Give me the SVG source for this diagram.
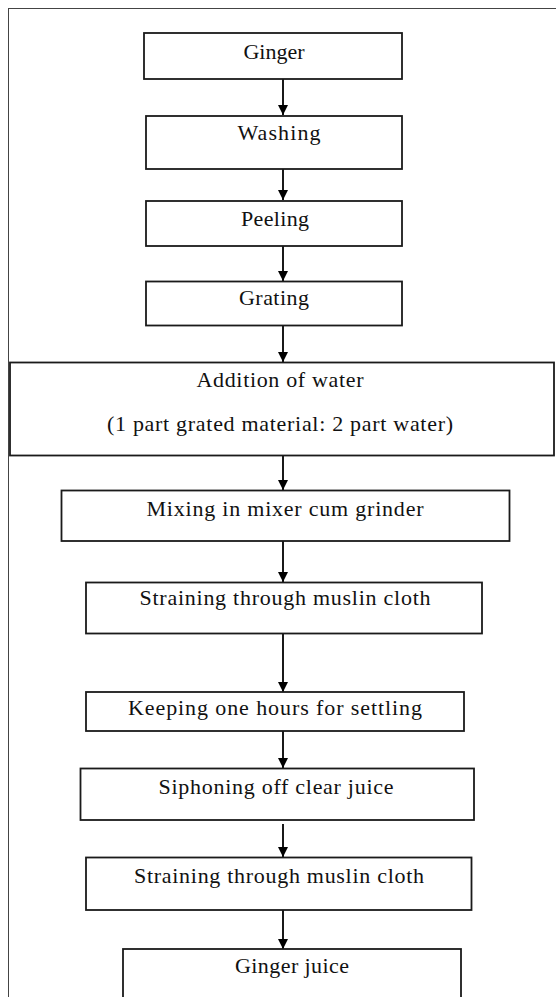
<svg xmlns="http://www.w3.org/2000/svg" width="556" height="997" viewBox="0 0 556 997">
<style>
.box{fill:#fff;stroke:#1a1a1a;stroke-width:1.8}
.t{font-family:"Liberation Serif","Times New Roman",serif;font-size:22px;fill:#111;text-anchor:middle}
.c{stroke:#000;stroke-width:1.8;fill:none}
</style>
<defs>
<marker id="ah" markerWidth="10" markerHeight="10" refX="10" refY="5" orient="auto" markerUnits="userSpaceOnUse">
<path d="M0,0 L10,5 L0,10 Z" fill="#000"/>
</marker>
</defs>
<rect x="0" y="0" width="556" height="997" fill="#fff"/>
<rect x="8.5" y="8.5" width="600" height="1000" fill="none" stroke="#444" stroke-width="1"/>
<g id="connectors">
<line class="c" x1="283" y1="79" x2="283" y2="115" marker-end="url(#ah)"/>
<line class="c" x1="283" y1="169" x2="283" y2="200" marker-end="url(#ah)"/>
<line class="c" x1="283" y1="246" x2="283" y2="281" marker-end="url(#ah)"/>
<line class="c" x1="283" y1="325" x2="283" y2="362" marker-end="url(#ah)"/>
<line class="c" x1="283" y1="456" x2="283" y2="490" marker-end="url(#ah)"/>
<line class="c" x1="283" y1="541" x2="283" y2="582" marker-end="url(#ah)"/>
<line class="c" x1="283" y1="634" x2="283" y2="692" marker-end="url(#ah)"/>
<line class="c" x1="283" y1="731" x2="283" y2="768" marker-end="url(#ah)"/>
<line class="c" x1="283" y1="824" x2="283" y2="857" marker-end="url(#ah)"/>
<line class="c" x1="283" y1="910" x2="283" y2="949" marker-end="url(#ah)"/>
</g>
<g id="n1"><rect class="box" x="144" y="33" width="258" height="46"/><text class="t" x="274" y="59" textLength="61" lengthAdjust="spacing">Ginger</text></g>
<g id="n2"><rect class="box" x="146" y="116" width="256" height="53"/><text class="t" x="279" y="140" textLength="83" lengthAdjust="spacing">Washing</text></g>
<g id="n3"><rect class="box" x="146" y="201" width="256" height="45"/><text class="t" x="275" y="226" textLength="68" lengthAdjust="spacing">Peeling</text></g>
<g id="n4"><rect class="box" x="146" y="281.5" width="256" height="44"/><text class="t" x="274" y="305" textLength="70" lengthAdjust="spacing">Grating</text></g>
<g id="n5"><rect class="box" x="10" y="362.5" width="544" height="93"/><text class="t" x="280" y="387" textLength="167" lengthAdjust="spacing">Addition of water</text><text class="t" x="280" y="431" textLength="346" lengthAdjust="spacing">(1 part grated material: 2 part water)</text></g>
<g id="n6"><rect class="box" x="61.5" y="490.5" width="448" height="50.5"/><text class="t" x="285" y="516" textLength="277" lengthAdjust="spacing">Mixing in mixer cum grinder</text></g>
<g id="n7"><rect class="box" x="86" y="582.5" width="396" height="51"/><text class="t" x="285" y="605" textLength="291" lengthAdjust="spacing">Straining through muslin cloth</text></g>
<g id="n8"><rect class="box" x="86" y="692" width="378" height="39"/><text class="t" x="275" y="715" textLength="294" lengthAdjust="spacing">Keeping one hours for settling</text></g>
<g id="n9"><rect class="box" x="80.5" y="768.5" width="393.5" height="51.5"/><text class="t" x="276" y="794" textLength="235" lengthAdjust="spacing">Siphoning off clear juice</text></g>
<g id="n10"><rect class="box" x="86" y="857.5" width="385.5" height="52.5"/><text class="t" x="279" y="883" textLength="290" lengthAdjust="spacing">Straining through muslin cloth</text></g>
<g id="n11"><rect class="box" x="123" y="949" width="338" height="60"/><text class="t" x="292" y="973" textLength="114" lengthAdjust="spacing">Ginger juice</text></g>
</svg>
